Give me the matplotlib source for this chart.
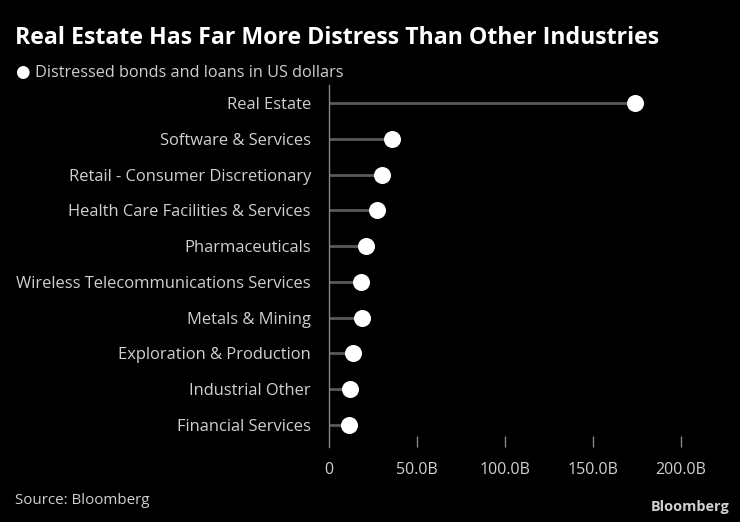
import matplotlib
matplotlib.use("Agg")
import matplotlib.pyplot as plt

fam = ["Open Sans", "DejaVu Sans"]

categories = ["Real Estate", "Software & Services", "Retail - Consumer Discretionary",
              "Health Care Facilities & Services", "Pharmaceuticals",
              "Wireless Telecommunications Services", "Metals & Mining",
              "Exploration & Production", "Industrial Other", "Financial Services"]
values = [173.7, 36.0, 30.1, 27.5, 21.0, 18.4, 18.6, 13.9, 12.0, 11.2]
xticks = [0, 50, 100, 150, 200]
xticklabels = ["0", "50.0B", "100.0B", "150.0B", "200.0B"]

fig = plt.figure(figsize=(7.4, 5.22), dpi=100, facecolor="black")
renderer = fig.canvas.get_renderer()


def fit_size(text, width_px, weight="normal", base=10):
    t = fig.text(0, 0, text, fontsize=base, fontweight=weight, family=fam)
    w = t.get_window_extent(renderer).width
    t.remove()
    return base * width_px / w


lab_size = fit_size("Wireless Telecommunications Services", 295)
tick_size = fit_size("200.0B", 51)
title_size = fit_size("Real Estate Has Far More Distress Than Other Industries", 648, "bold")
leg_size = fit_size("Distressed bonds and loans in US dollars", 309)
src_size = fit_size("Source: Bloomberg", 134)
logo_size = fit_size("Bloomberg", 79, "bold")

ax = fig.add_axes([329/740, 1-447/522, (698.6-329)/740, (447-85)/522])
ax.set_facecolor("black")

ys = list(range(len(categories)))
ax.hlines(ys, 0, values, color="#5a5a5a", lw=2, zorder=1)
ax.scatter(values, ys, s=150, color="white", zorder=3, linewidths=0)

ax.set_xlim(0, 210)
ax.set_ylim(9.615, -0.503)
ax.set_yticks(ys)
ax.set_yticklabels(categories, fontsize=lab_size, color="#d0d0d0", family=fam)
ax.tick_params(axis="y", length=0, pad=13)
ax.set_xticks(xticks)
ax.set_xticklabels(xticklabels, fontsize=tick_size, color="#d0d0d0", family=fam)
ax.tick_params(axis="x", length=8, width=1, color="#888888", pad=10.5, direction="in")
ax.xaxis.get_major_ticks()[0].tick1line.set_visible(False)
for s in ["top", "right", "bottom"]:
    ax.spines[s].set_visible(False)
ax.spines["left"].set_color("#888888")
ax.spines["left"].set_linewidth(1)

fig.text(15/740, 1-38.5/522, "Real Estate Has Far More Distress Than Other Industries",
         fontsize=title_size, fontweight="bold", color="white", family=fam, va="center", ha="left")
fig.text(22/740, 1-72/522, "\u25CF", fontsize=12, color="white", family=["DejaVu Sans"],
         va="center", ha="center")
fig.text(35/740, 1-73/522, "Distressed bonds and loans in US dollars", fontsize=leg_size,
         color="#d0d0d0", family=fam, va="center", ha="left")
fig.text(15/740, 1-501/522, "Source: Bloomberg", fontsize=src_size, color="#d0d0d0",
         family=fam, va="center", ha="left")
fig.text(729/740, 1-507/522, "Bloomberg", fontsize=logo_size, fontweight="bold", color="#d0d0d0",
         family=fam, va="center", ha="right")

fig.savefig("out.png", dpi=100, facecolor="black")
